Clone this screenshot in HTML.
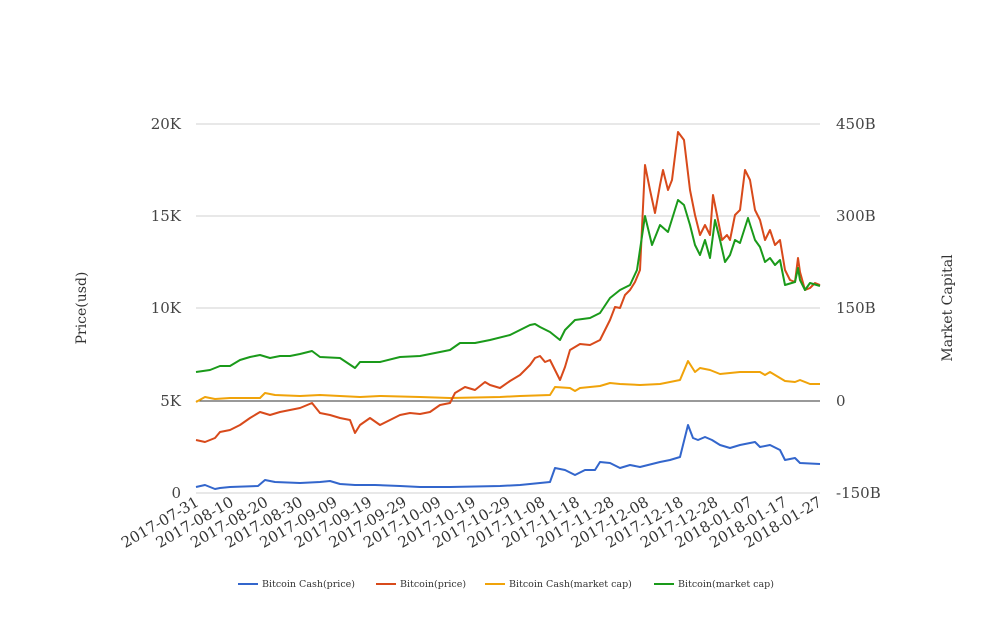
<!DOCTYPE html>
<html><head><meta charset="utf-8"><style>
body{margin:0;background:#fff;}
svg{font-family:"DejaVu Serif","Liberation Serif",serif;}
</style></head><body>
<svg width="1008" height="616" viewBox="0 0 1008 616">
<g stroke="#d0d0d0" stroke-width="1">
<line x1="196" y1="124" x2="820" y2="124"/><line x1="196" y1="216" x2="820" y2="216"/>
<line x1="196" y1="308" x2="820" y2="308"/><line x1="196" y1="493" x2="820" y2="493"/>
</g>
<line x1="196" y1="401" x2="820" y2="401" stroke="#333" stroke-width="1"/>
<g font-size="15" fill="#444" text-anchor="end">
<text x="181" y="129">20K</text><text x="181" y="221">15K</text><text x="181" y="313">10K</text>
<text x="181" y="406">5K</text><text x="181" y="498">0</text>
</g>
<g font-size="15" fill="#444">
<text x="836" y="129">450B</text><text x="836" y="221">300B</text><text x="836" y="313">150B</text>
<text x="836" y="406">0</text><text x="836" y="498">-150B</text>
</g>
<text transform="translate(86,308) rotate(-90)" font-size="14" fill="#333" text-anchor="middle">Price(usd)</text>
<text transform="translate(952,308) rotate(-90)" font-size="14" fill="#333" text-anchor="middle">Market Capital</text>
<g font-size="15" fill="#333" text-anchor="end">
<text transform="translate(200,505) rotate(-30)">2017-07-31</text>
<text transform="translate(234.6,505) rotate(-30)">2017-08-10</text>
<text transform="translate(269.2,505) rotate(-30)">2017-08-20</text>
<text transform="translate(303.8,505) rotate(-30)">2017-08-30</text>
<text transform="translate(338.4,505) rotate(-30)">2017-09-09</text>
<text transform="translate(373,505) rotate(-30)">2017-09-19</text>
<text transform="translate(407.6,505) rotate(-30)">2017-09-29</text>
<text transform="translate(442.2,505) rotate(-30)">2017-10-09</text>
<text transform="translate(476.8,505) rotate(-30)">2017-10-19</text>
<text transform="translate(511.4,505) rotate(-30)">2017-10-29</text>
<text transform="translate(546,505) rotate(-30)">2017-11-08</text>
<text transform="translate(580.6,505) rotate(-30)">2017-11-18</text>
<text transform="translate(615.2,505) rotate(-30)">2017-11-28</text>
<text transform="translate(649.8,505) rotate(-30)">2017-12-08</text>
<text transform="translate(684.4,505) rotate(-30)">2017-12-18</text>
<text transform="translate(719,505) rotate(-30)">2017-12-28</text>
<text transform="translate(753.6,505) rotate(-30)">2018-01-07</text>
<text transform="translate(788.2,505) rotate(-30)">2018-01-17</text>
<text transform="translate(822.8,505) rotate(-30)">2018-01-27</text>
</g>
<g fill="none" stroke-width="2" stroke-linejoin="round">
<polyline stroke="#3366cc" points="196,487 205,485 215,489 220,488 230,487 258,486 265,480 275,482 300,483 320,482 330,481 340,484 355,485 375,485 400,486 420,487 450,487 500,486 520,485 550,482 555,468 565,470 575,475 585,470 595,470 600,462 610,463 620,468 630,465 640,467 660,462 670,460 680,457 688,425 693,438 698,440 705,437 712,440 720,445 730,448 740,445 750,443 755,442 760,447 770,445 780,450 785,460 795,458 800,463 820,464"/>
<polyline stroke="#f0a30a" points="196,402 205,397 215,399 230,398 260,398 265,393 275,395 300,396 320,395 340,396 360,397 380,396 420,397 450,398 500,397 520,396 550,395 555,387 570,388 575,391 580,388 600,386 610,383 620,384 640,385 660,384 680,380 688,361 695,372 700,368 710,370 720,374 740,372 760,372 765,375 770,372 785,381 795,382 800,380 810,384 820,384"/>
<polyline stroke="#d84a1b" points="196,440 205,442 215,438 220,432 230,430 240,425 250,418 260,412 270,415 280,412 290,410 300,408 312,403 320,413 330,415 340,418 350,420 355,433 360,425 370,418 380,425 390,420 400,415 410,413 420,414 430,412 440,405 450,403 455,393 465,387 475,390 485,382 490,385 500,388 510,381 520,375 530,365 535,358 540,356 545,362 550,360 555,370 560,380 565,367 570,350 580,344 590,345 600,340 610,320 615,307 620,308 625,295 630,290 635,282 640,270 645,165 650,190 655,213 660,185 663,170 668,190 672,180 678,132 684,140 690,190 695,215 700,235 705,225 710,235 713,195 717,215 722,240 727,235 730,240 735,215 740,210 745,170 750,180 755,210 760,220 765,240 770,230 775,245 780,240 785,270 790,280 795,282 798,258 800,272 805,290 810,288 815,283 820,285"/>
<polyline stroke="#1a9a1a" points="196,372 210,370 220,366 230,366 240,360 250,357 260,355 270,358 280,356 290,356 300,354 312,351 320,357 340,358 355,368 360,362 380,362 400,357 420,356 440,352 450,350 460,343 475,343 490,340 510,335 520,330 530,325 535,324 540,327 550,332 560,340 565,330 575,320 590,318 600,313 610,298 620,290 630,285 637,270 645,216 652,245 660,225 668,232 678,200 684,205 690,225 695,245 700,255 705,240 710,258 715,220 720,240 725,262 730,255 735,240 740,243 748,218 755,240 760,247 765,262 770,258 775,265 780,260 785,285 795,282 798,268 800,280 805,290 810,283 820,286"/>
</g>
<g font-size="9.5" fill="#333">
<line x1="238" y1="584" x2="258" y2="584" stroke="#3366cc" stroke-width="2"/><text x="262" y="587">Bitcoin Cash(price)</text>
<line x1="376" y1="584" x2="396" y2="584" stroke="#d84a1b" stroke-width="2"/><text x="400" y="587">Bitcoin(price)</text>
<line x1="485" y1="584" x2="505" y2="584" stroke="#f0a30a" stroke-width="2"/><text x="509" y="587">Bitcoin Cash(market cap)</text>
<line x1="654" y1="584" x2="674" y2="584" stroke="#1a9a1a" stroke-width="2"/><text x="678" y="587">Bitcoin(market cap)</text>
</g>
</svg>
</body></html>
